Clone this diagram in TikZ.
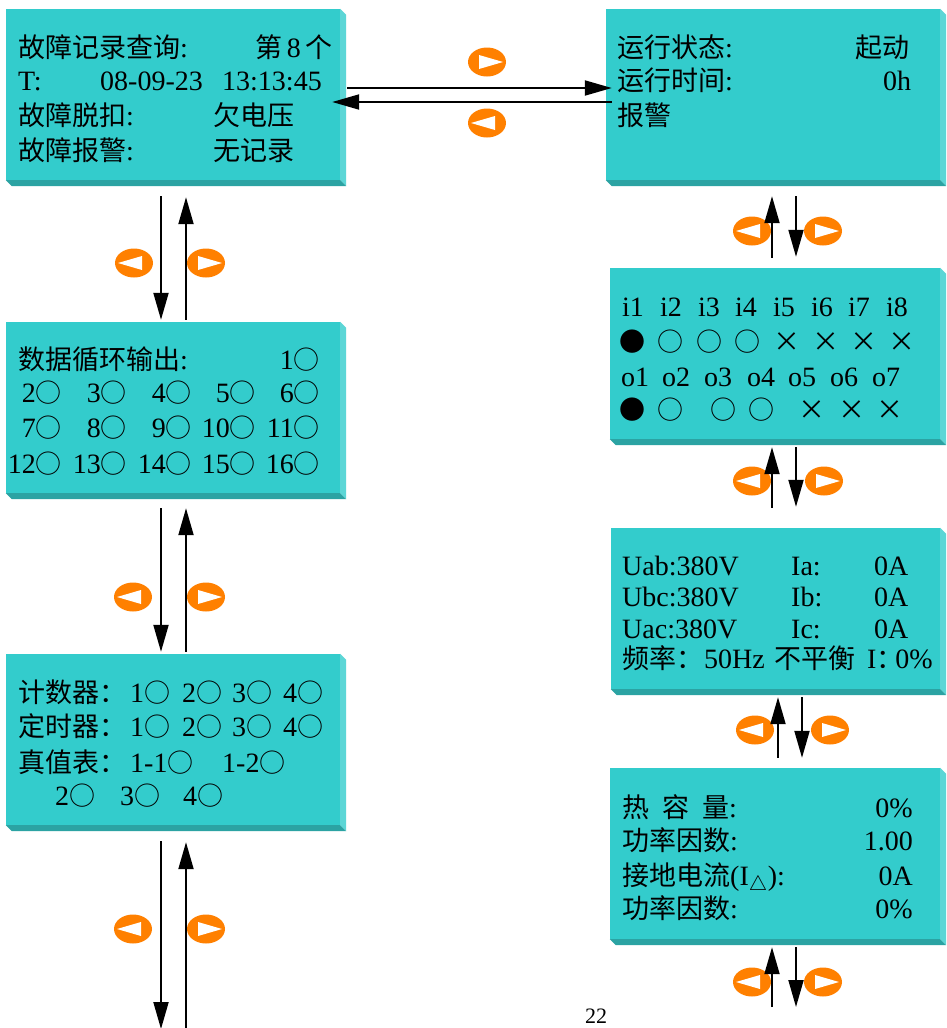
\documentclass[tikz,border=0pt]{standalone}
\usepackage{fontspec}
\setmainfont{Liberation Serif}
\newfontfamily\cjk{Noto Sans CJK SC}
\usetikzlibrary{arrows.meta,shapes.geometric}
\definecolor{face}{HTML}{33CCCC}
\definecolor{bevlight}{HTML}{5CD6D6}
\definecolor{bevdark}{HTML}{2BA3A3}
\definecolor{btnorange}{HTML}{FF8000}
\newcommand\zh[1]{{\cjk\fontsize{27pt}{29pt}\selectfont #1}}
\newcommand\sym[1]{{\cjk\fontsize{26pt}{29pt}\selectfont #1}}
\newcommand\xmk{{\cjk\fontsize{27pt}{29pt}\selectfont ×}}
\newcount\tcnt
\newcommand\txl[3]{\global\advance\tcnt by 1\relax\node[txt,anchor=base west] (t\the\tcnt) at (#1,#2+10) {#3};}
\newcommand\txr[3]{\global\advance\tcnt by 1\relax\node[txt,anchor=base east] (t\the\tcnt) at (#1,#2+10) {#3};}
\newcommand\txc[3]{\global\advance\tcnt by 1\relax\node[txt,anchor=base] (t\the\tcnt) at (#1,#2+10) {#3};}
\begin{document}
\begin{tikzpicture}[x=1pt,y=-1pt,
  panel/.style={rectangle,fill=face,draw=none,inner sep=0pt},
  txt/.style={inner sep=0pt,text=black,font=\fontsize{28pt}{30pt}\selectfont},
  btn/.style={ellipse,fill=btnorange,draw=none,inner sep=0pt,minimum width=38pt,minimum height=29pt},
  btnR/.style={btn,path picture={\fill[white]
      ([xshift=-8pt,yshift=7pt]path picture bounding box.center) --
      ([xshift=-8pt,yshift=-7pt]path picture bounding box.center) --
      ([xshift=16pt]path picture bounding box.center) -- cycle;}},
  btnL/.style={btn,path picture={\fill[white]
      ([xshift=8pt,yshift=7pt]path picture bounding box.center) --
      ([xshift=8pt,yshift=-7pt]path picture bounding box.center) --
      ([xshift=-16pt]path picture bounding box.center) -- cycle;}},
  arr/.style={line width=2pt,-{Triangle[length=27pt,width=15pt]}}]
\useasboundingbox[fill=white] (0,0) rectangle (946,1028);

% panels
\node[panel,minimum width=334pt,minimum height=171pt] (L1) at (173,94.5) {};
\node[panel,minimum width=334pt,minimum height=171pt] (L2) at (173,407.5) {};
\node[panel,minimum width=334pt,minimum height=171pt] (L3) at (173,739.5) {};
\node[panel,minimum width=334pt,minimum height=171pt] (R1) at (773,94.5) {};
\node[panel,minimum width=330pt,minimum height=171pt] (R2) at (775,353.5) {};
\node[panel,minimum width=329pt,minimum height=161pt] (R3) at (775.5,608.5) {};
\node[panel,minimum width=330pt,minimum height=171pt] (R4) at (775,853.5) {};
\foreach \n in {L1,L2,L3,R1,R2,R3,R4}{
  \fill[bevlight] (\n.north east) -- ++(6,6) -- ([shift={(6,6)}]\n.south east) -- (\n.south east) -- cycle;
  \fill[bevdark] (\n.south west) -- (\n.south east) -- ([shift={(6,6)}]\n.south east) -- ([shift={(6,6)}]\n.south west) -- cycle;
}

% texts L1
\txl{18}{47}{\zh{故障记录查询}:}
\txl{255}{47}{\zh{第}\,8\,\zh{个}}
\txl{18}{80}{T:}
\txl{100}{80}{08-09-23}
\txl{222}{80}{13:13:45}
\txl{18}{115}{\zh{故障脱扣}:}
\txl{213}{115}{\zh{欠电压}}
\txl{18}{150}{\zh{故障报警}:}
\txl{213}{150}{\zh{无记录}}

% texts R1
\txl{617}{47}{\zh{运行状态}:}
\txl{855}{47}{\zh{起动}}
\txl{617}{80}{\zh{运行时间}:}
\txl{883}{80}{0h}
\txl{617}{115}{\zh{报警}}

% texts L2
\txl{18}{359}{\zh{数据循环输出}:}
\txr{320}{359}{1\sym{○}}
\txr{62}{392}{2\sym{○}}
\txr{127}{392}{3\sym{○}}
\txr{192}{392}{4\sym{○}}
\txr{256}{392}{5\sym{○}}
\txr{320}{392}{6\sym{○}}
\txr{62}{427}{7\sym{○}}
\txr{127}{427}{8\sym{○}}
\txr{192}{427}{9\sym{○}}
\txr{256}{427}{10\sym{○}}
\txr{320}{427}{11\sym{○}}
\txr{62}{463}{12\sym{○}}
\txr{127}{463}{13\sym{○}}
\txr{192}{463}{14\sym{○}}
\txr{256}{463}{15\sym{○}}
\txr{320}{463}{16\sym{○}}

% texts L3
\txl{18}{692}{\zh{计数器：}}
\txl{130}{692}{1\sym{○}}
\txl{182}{692}{2\sym{○}}
\txl{232}{692}{3\sym{○}}
\txl{283}{692}{4\sym{○}}
\txl{18}{726}{\zh{定时器：}}
\txl{130}{726}{1\sym{○}}
\txl{182}{726}{2\sym{○}}
\txl{232}{726}{3\sym{○}}
\txl{283}{726}{4\sym{○}}
\txl{18}{762}{\zh{真值表：}}
\txl{130}{762}{1-1\sym{○}}
\txl{222}{762}{1-2\sym{○}}
\txl{55}{795}{2\sym{○}}
\txl{120}{795}{3\sym{○}}
\txl{183}{795}{4\sym{○}}

% texts R2
\txl{622}{306}{i1}
\txl{660}{306}{i2}
\txl{698}{306}{i3}
\txl{735}{306}{i4}
\txl{773}{306}{i5}
\txl{811}{306}{i6}
\txl{848}{306}{i7}
\txl{886}{306}{i8}
\txc{632}{341}{\sym{●}}
\txc{670}{341}{\sym{○}}
\txc{709}{341}{\sym{○}}
\txc{747}{341}{\sym{○}}
\txc{787}{341}{\xmk}
\txc{826}{341}{\xmk}
\txc{864}{341}{\xmk}
\txc{902}{341}{\xmk}
\txl{621}{376}{o1}
\txl{662}{376}{o2}
\txl{704}{376}{o3}
\txl{747}{376}{o4}
\txl{788}{376}{o5}
\txl{830}{376}{o6}
\txl{872}{376}{o7}
\txc{632}{409}{\sym{●}}
\txc{670}{409}{\sym{○}}
\txc{723}{409}{\sym{○}}
\txc{761}{409}{\sym{○}}
\txc{812}{409}{\xmk}
\txc{852}{409}{\xmk}
\txc{890}{409}{\xmk}

% texts R3
\txl{622}{565}{Uab:380V}
\txl{791}{565}{Ia:}
\txl{874}{565}{0A}
\txl{622}{596}{Ubc:380V}
\txl{791}{596}{Ib:}
\txl{874}{596}{0A}
\txl{622}{628}{Uac:380V}
\txl{791}{628}{Ic:}
\txl{874}{628}{0A}
\txl{622}{658}{\zh{频率：}}
\txl{704}{658}{50Hz}
\txl{774}{658}{\zh{不平衡}}
\txl{867}{658}{I\zh{：}}
\txr{933}{658}{0\%}

% texts R4
\txl{622}{807}{\zh{热\hspace{13pt}容\hspace{13pt}量}:}
\txr{913}{807}{0\%}
\txl{622}{840}{\zh{功率因数}:}
\txr{913}{840}{1.00}
\txl{622}{875}{\zh{接地电流}(I$_{\triangle}$):}
\txr{913}{875}{0A}
\txl{622}{908}{\zh{功率因数}:}
\txr{913}{908}{0\%}

% page number
\node[inner sep=0pt,anchor=base,font=\fontsize{22pt}{22pt}\selectfont] (pg) at (596,1023) {22};

% buttons
\node[btnR] (b1) at (487,62) {};
\node[btnL] (b2) at (487,123) {};
\node[btnL] (b3) at (134,263) {};
\node[btnR] (b4) at (206,263) {};
\node[btnL] (b5) at (133,597) {};
\node[btnR] (b6) at (206,597) {};
\node[btnL] (b7) at (133,929) {};
\node[btnR] (b8) at (206,929) {};
\node[btnL] (b9) at (752,231) {};
\node[btnR] (b10) at (823,231) {};
\node[btnL] (b11) at (752,481) {};
\node[btnR] (b12) at (824,481) {};
\node[btnL] (b13) at (755,730) {};
\node[btnR] (b14) at (830,730) {};
\node[btnL] (b15) at (752,982) {};
\node[btnR] (b16) at (823,982) {};

% connector helpers
\coordinate (hy1) at (0,88);
\coordinate (hy2) at (0,102);
\coordinate (vx1) at (161,0);
\coordinate (vx2) at (186,0);
\coordinate (vx3) at (772,0);
\coordinate (vx4) at (796,0);
\coordinate (vx5) at (778,0);
\coordinate (vx6) at (802,0);
\coordinate (lb1) at (161,1029);
\coordinate (lb2) at (186,1032);
\coordinate (rb1) at (772,1007);
\coordinate (rb2) at (796,1007);

% horizontal
\draw[arr,shorten <=7pt,shorten >=-6pt] (L1.east |- hy1) -- (R1.west |- hy1);
\draw[arr,shorten <=-6pt,shorten >=-8pt] (R1.west |- hy2) -- (L1.east |- hy2);
% left column
\draw[arr,shorten <=16pt,shorten >=2pt] (L1.south -| vx1) -- (L2.north -| vx1);
\draw[arr,shorten <=2pt,shorten >=17pt] (L2.north -| vx2) -- (L1.south -| vx2);
\draw[arr,shorten <=15pt,shorten >=2pt] (L2.south -| vx1) -- (L3.north -| vx1);
\draw[arr,shorten <=2pt,shorten >=15pt] (L3.north -| vx2) -- (L2.south -| vx2);
\draw[arr,shorten <=16pt] (L3.south -| vx1) -- (lb1);
\draw[arr,shorten >=17pt] (lb2) -- (L3.south -| vx2);
% right column
\draw[arr,shorten <=10pt,shorten >=16pt] (R2.north -| vx3) -- (R1.south -| vx3);
\draw[arr,shorten <=16pt,shorten >=11pt] (R1.south -| vx4) -- (R2.north -| vx4);
\draw[arr,shorten <=20pt,shorten >=8pt] (R3.north -| vx3) -- (R2.south -| vx3);
\draw[arr,shorten <=8pt,shorten >=21pt] (R2.south -| vx4) -- (R3.north -| vx4);
\draw[arr,shorten <=10pt,shorten >=8pt] (R4.north -| vx5) -- (R3.south -| vx5);
\draw[arr,shorten <=8pt,shorten >=10pt] (R3.south -| vx6) -- (R4.north -| vx6);
\draw[arr,shorten >=8pt] (rb1) -- (R4.south -| vx3);
\draw[arr,shorten <=8pt] (R4.south -| vx4) -- (rb2);
\end{tikzpicture}
\end{document}
